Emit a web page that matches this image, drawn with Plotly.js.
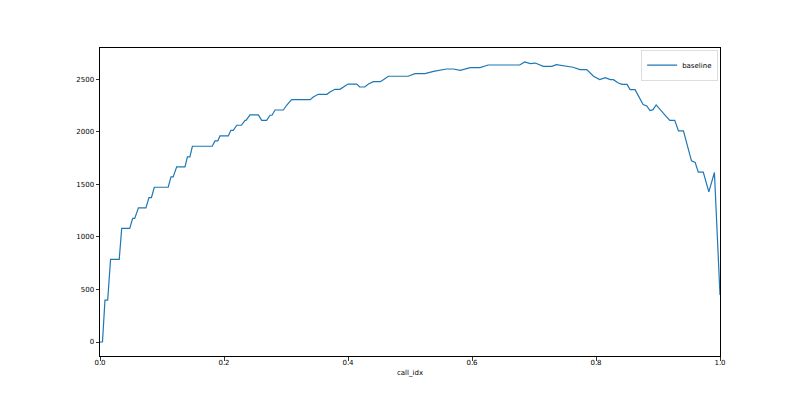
<!DOCTYPE html>
<html>
<head>
<meta charset="utf-8">
<script src="https://cdn.plot.ly/plotly-3.0.1.min.js"></script>
<style>html,body{margin:0;padding:0;background:#fff;}#chart{width:800px;height:400px;}</style>
</head>
<body>
<div id="chart"></div>
<script>
const seriesName = "baseline";
const xTitle = "call_idx";
const callIdx = [0, 0.004, 0.008, 0.0124, 0.017, 0.031, 0.035, 0.048, 0.0527, 0.056, 0.062, 0.074, 0.079, 0.083, 0.0876, 0.110, 0.1145, 0.118, 0.1237, 0.137, 0.141, 0.145, 0.149, 0.181, 0.1855, 0.19, 0.1935, 0.207, 0.211, 0.215, 0.2205, 0.228, 0.234, 0.2355, 0.242, 0.2555, 0.2608, 0.2688, 0.2742, 0.2774, 0.2823, 0.2957, 0.301, 0.309, 0.339, 0.344, 0.352, 0.366, 0.371, 0.379, 0.387, 0.392, 0.400, 0.414, 0.419, 0.427, 0.433, 0.441, 0.452, 0.457, 0.465, 0.497, 0.508, 0.524, 0.538, 0.559, 0.570, 0.581, 0.597, 0.613, 0.626, 0.677, 0.685, 0.694, 0.702, 0.715, 0.729, 0.736, 0.742, 0.753, 0.763, 0.774, 0.785, 0.796, 0.806, 0.815, 0.823, 0.828, 0.836, 0.842, 0.850, 0.855, 0.863, 0.876, 0.882, 0.887, 0.892, 0.897, 0.903, 0.911, 0.919, 0.927, 0.933, 0.941, 0.954, 0.960, 0.965, 0.973, 0.982, 0.991, 1.0];
const baseline = [0, 0, 399, 399, 786, 786, 1081, 1081, 1176, 1176, 1277, 1277, 1375, 1375, 1473, 1473, 1571, 1571, 1667, 1667, 1762, 1762, 1863, 1863, 1914, 1914, 1961, 1961, 2015, 2015, 2063, 2063, 2110, 2110, 2161, 2161, 2110, 2110, 2158, 2158, 2208, 2208, 2253, 2307, 2307, 2332, 2357, 2357, 2380, 2405, 2405, 2427, 2455, 2455, 2427, 2427, 2455, 2478, 2478, 2497, 2529, 2529, 2554, 2554, 2576, 2598, 2598, 2586, 2611, 2611, 2636, 2636, 2665, 2649, 2655, 2624, 2624, 2640, 2633, 2620, 2615, 2592, 2592, 2529, 2497, 2516, 2497, 2497, 2465, 2452, 2452, 2402, 2402, 2259, 2246, 2202, 2211, 2256, 2212, 2161, 2110, 2110, 2009, 2009, 1724, 1708, 1616, 1616, 1429, 1613, 447];
const xTickVals = [0, 0.2, 0.4, 0.6, 0.8, 1.0];
const xTickText = ["0.0", "0.2", "0.4", "0.6", "0.8", "1.0"];
const yTickVals = [0, 500, 1000, 1500, 2000, 2500];

const axisCommon = {
  showline: true, mirror: true, linecolor: '#000', linewidth: 1,
  ticks: 'outside', ticklen: 3.5, tickwidth: 0.8, tickcolor: '#000',
  showgrid: false, zeroline: false,
  tickfont: {family: 'DejaVu Sans', size: 7, color: '#000'}
};

Plotly.newPlot('chart', [{
  x: callIdx, y: baseline, type: 'scatter', mode: 'lines', name: seriesName,
  line: {color: '#1f77b4', width: 1.2}
}], {
  width: 800, height: 400,
  margin: {l: 100, r: 80, t: 48, b: 44},
  paper_bgcolor: '#fff', plot_bgcolor: '#fff',
  showlegend: true,
  legend: {x: 0.997, xanchor: 'right', y: 0.995, yanchor: 'top', bgcolor: '#fff', bordercolor: '#ddd', borderwidth: 1,
           itemwidth: 30, tracegroupgap: 0,
           font: {family: 'DejaVu Sans', size: 7, color: '#000'}},
  xaxis: Object.assign({}, axisCommon, {range: [0, 1], tickvals: xTickVals, ticktext: xTickText, ticklabelstandoff: -4,
    title: {text: xTitle, font: {family: 'DejaVu Sans', size: 7, color: '#000'}, standoff: 4}}),
  yaxis: Object.assign({}, axisCommon, {range: [-133, 2798], tickvals: yTickVals})
}, {displayModeBar: false, staticPlot: true});
</script>
</body>
</html>
